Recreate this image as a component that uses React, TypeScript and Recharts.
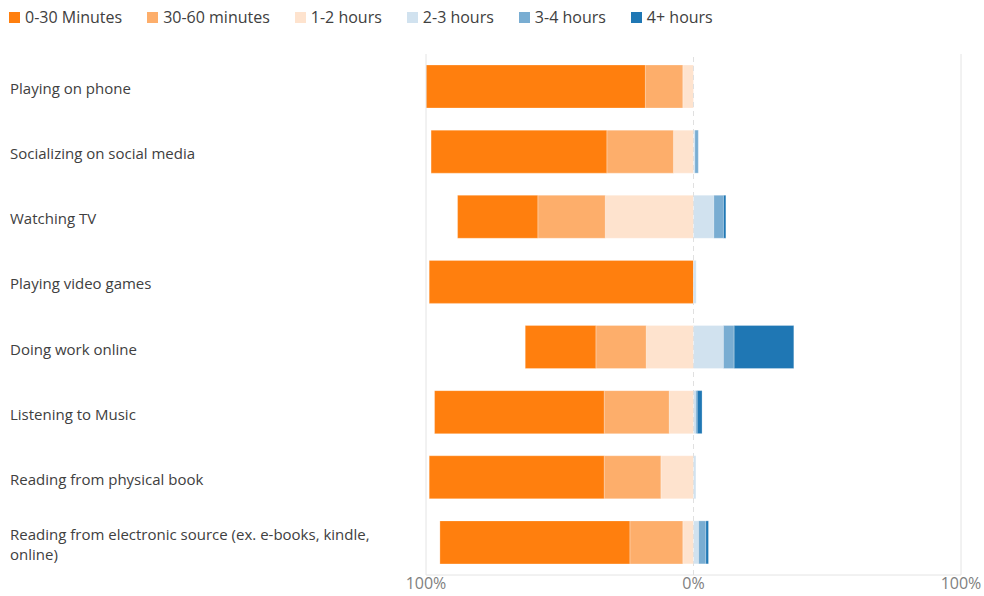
import {
  BarChart,
  Bar,
  XAxis,
  YAxis,
  ReferenceLine,
} from 'recharts';

const FONT = '"Segoe UI", "Open Sans", "Noto Sans", sans-serif';

const ACTIVITIES = [
  'Playing on phone',
  'Socializing on social media',
  'Watching TV',
  'Playing video games',
  'Doing work online',
  'Listening to Music',
  'Reading from physical book',
  'Reading from electronic source (ex. e-books, kindle, online)',
];

// share of respondents, in %
const MIN_0_30 = [82, 65.7, 30, 98.8, 26.4, 63.4, 65.4, 71];
const MIN_30_60 = [14, 24.9, 25.2, 0, 18.8, 24.3, 21.2, 19.8];
const HOURS_1_2 = [4, 7.5, 33, 0, 17.7, 9.1, 12.2, 4];
const HOURS_2_3 = [0, 0.5, 7.6, 1, 11.2, 0.8, 0.9, 1.9];
const HOURS_3_4 = [0, 1.3, 3.6, 0, 4, 0.6, 0, 2.7];
const HOURS_4_PLUS = [0, 0, 0.9, 0, 22.3, 1.8, 0, 1];

const X_TICKS = [-100, 0, 100];

const LEGEND = [
  { key: 'm0_30', label: '0-30 Minutes', color: '#ff7f0e' },
  { key: 'm30_60', label: '30-60 minutes', color: '#fdae6b' },
  { key: 'h1_2', label: '1-2 hours', color: '#fee3ce' },
  { key: 'h2_3', label: '2-3 hours', color: '#d1e2ef' },
  { key: 'h3_4', label: '3-4 hours', color: '#79add2' },
  { key: 'h4', label: '4+ hours', color: '#1f77b4' },
];

const COLOR: Record<string, string> = Object.fromEntries(LEGEND.map((l) => [l.key, l.color]));
const LABEL: Record<string, string> = Object.fromEntries(LEGEND.map((l) => [l.key, l.label]));

// shorter stays go left of zero, longer ones right
const data = ACTIVITIES.map((name, i) => ({
  name,
  m0_30: -MIN_0_30[i],
  m30_60: -MIN_30_60[i],
  h1_2: -HOURS_1_2[i],
  h2_3: HOURS_2_3[i],
  h3_4: HOURS_3_4[i],
  h4: HOURS_4_PLUS[i],
}));

// stacking order outward from zero
const STACK_ORDER = ['h1_2', 'm30_60', 'm0_30', 'h2_3', 'h3_4', 'h4'];

let ctx: CanvasRenderingContext2D | null = null;
function wrapLabel(label: string, maxWidth: number) {
  if (!ctx) ctx = document.createElement('canvas').getContext('2d');
  if (!ctx) return [label];
  ctx.font = `15px ${FONT}`;
  const lines: string[] = [];
  let cur = '';
  for (const word of label.split(' ')) {
    const next = cur ? `${cur} ${word}` : word;
    if (cur && ctx.measureText(next).width > maxWidth) {
      lines.push(cur);
      cur = word;
    } else {
      cur = next;
    }
  }
  if (cur) lines.push(cur);
  return lines;
}

function CategoryTick({ y, payload }: any) {
  const lines = wrapLabel(payload.value, 385);
  const top = y + 1.5 - ((lines.length - 1) * 20) / 2;
  return (
    <text x={10} y={top} fontSize={15} fill="#404040" fontFamily={FONT} dominantBaseline="central">
      {lines.map((line, i) => (
        <tspan key={i} x={10} y={top + i * 20}>
          {line}
        </tspan>
      ))}
    </text>
  );
}

export default function App() {
  return (
    <div style={{ position: 'absolute', left: 0, top: 0, width: 984, height: 596, background: '#fff' }}>
      <div
        style={{
          position: 'absolute',
          left: 9,
          top: 6,
          display: 'flex',
          alignItems: 'center',
          fontFamily: FONT,
          fontSize: 16,
          color: '#404040',
          whiteSpace: 'nowrap',
          zIndex: 1,
        }}
      >
        {LEGEND.map((l) => (
          <div key={l.key} style={{ display: 'flex', alignItems: 'center', marginRight: 25 }}>
            <span style={{ width: 11, height: 11, background: l.color, marginRight: 5, display: 'inline-block' }} />
            <span>{l.label}</span>
          </div>
        ))}
      </div>
      <BarChart
        width={984}
        height={596}
        data={data}
        layout="vertical"
        stackOffset="sign"
        margin={{ top: 54, right: 23, bottom: 0, left: 0 }}
      >
        <ReferenceLine x={-100} stroke="#e4e4e4" />
        <ReferenceLine x={100} stroke="#e4e4e4" />
        <ReferenceLine x={0} stroke="#e0e0e0" strokeDasharray="5 4" />
        <XAxis
          type="number"
          domain={[-100, 100]}
          ticks={X_TICKS}
          tickFormatter={(v: number) => `${Math.abs(v)}%`}
          axisLine={{ stroke: '#e4e4e4' }}
          tickLine={false}
          tickSize={0}
          tickMargin={3}
          height={21}
          tick={{ fontSize: 16, fill: '#808080', fontFamily: FONT }}
        />
        <YAxis
          type="category"
          dataKey="name"
          width={426}
          axisLine={false}
          tickLine={false}
          interval={0}
          tick={<CategoryTick />}
        />
        {STACK_ORDER.map((key) => (
          <Bar
            key={key}
            dataKey={key}
            name={LABEL[key]}
            stackId="a"
            fill={COLOR[key]}
            stroke="#ffffff"
            strokeOpacity={0.5}
            strokeWidth={0.5}
            barSize={43}
            isAnimationActive={false}
          />
        ))}
      </BarChart>
    </div>
  );
}
